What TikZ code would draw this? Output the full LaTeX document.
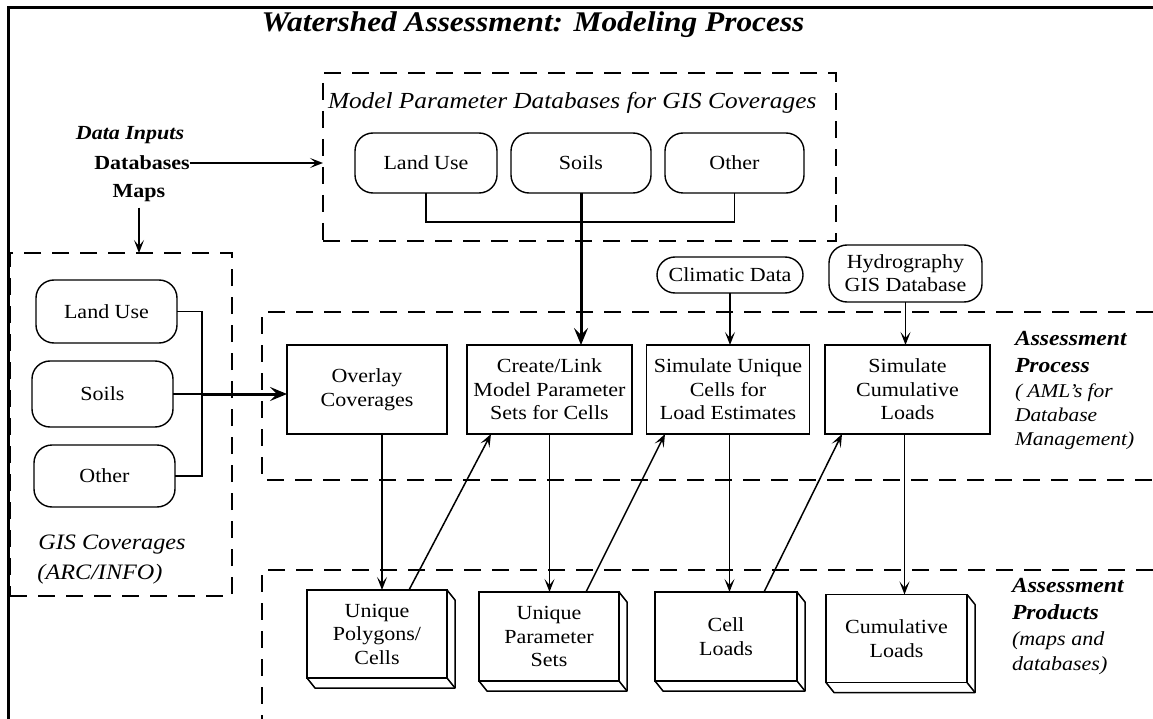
\documentclass[tikz,border=0pt]{standalone}
\usepackage{fontspec}
\setmainfont[FakeStretch=1.1]{Liberation Serif}
\usetikzlibrary{arrows.meta,calc}
\newcommand\bxfont{\fontsize{20}{23.5}\selectfont}
\newcommand\slabdepth[1]{%
  \draw[line width=1.5pt,line join=round] (#1.north east) -- ++(8,10) -- ($(#1.south east)+(8,10)$) -- ($(#1.south west)+(8,10)$) -- (#1.south west);
  \draw[line width=1.5pt] (#1.south east) -- ++(8,10);}
\begin{document}
\begin{tikzpicture}[x=1pt,y=-1pt,
  every node/.style={inner sep=0pt,outer sep=0pt},
  ln/.style={line width=1.5pt},
  dline/.style={line width=1.5pt,dash pattern=on 17pt off 11pt},
  dbox/.style={draw,line width=1.5pt,dash pattern=on 17pt off 11pt},
  rbox/.style={draw,line width=1.4pt,rounded corners=18pt,align=center,font=\bxfont},
  pbox/.style={draw,line width=1.5pt,align=center,font=\bxfont,minimum height=89pt},
  prodbox/.style={draw,line width=1.6pt,align=center,font=\bxfont,minimum height=88pt,minimum width=140pt},
  arr/.style={line width=1.5pt,-{Stealth[length=13pt,width=10pt,inset=6pt]}},
  tarr/.style={line width=3pt,-{Stealth[length=17pt,width=14pt,inset=7pt]}},
  lbl/.style={align=left,anchor=north west},
]
\useasboundingbox (0,0) rectangle (1153,719);
\fill[white] (0,0) rectangle (1153,719);
% frame
\draw[line width=3pt] (8,719) -- (8,8) -- (1153,8);
% title
\node[font=\fontsize{28.5}{32}\selectfont\bfseries\itshape] (title) at (533,25) {Watershed Assessment: Modeling Process};

% model parameter databases
\node[dbox,minimum width=513pt,minimum height=168pt] (mpdb) at (579.5,157) {};
\node[anchor=west,font=\fontsize{23}{26}\selectfont\itshape] (mptitle) at (328,103) {Model Parameter Databases for GIS Coverages};
\node[rbox,minimum width=142pt,minimum height=60pt] (mpLand) at (426,163) {Land Use};
\node[rbox,minimum width=140pt,minimum height=60pt] (mpSoils) at (581,163) {Soils};
\node[rbox,minimum width=139pt,minimum height=60pt] (mpOther) at (734.5,163) {Other};

% data inputs
\node[font=\fontsize{20}{24}\selectfont\bfseries\itshape] (datain) at (130,135) {Data Inputs};
\node[font=\fontsize{20}{24}\selectfont\bfseries] (databases) at (142,163) {Databases};
\node[font=\fontsize{20}{24}\selectfont\bfseries] (maps) at (139,193) {Maps};

% GIS coverages
\node[dbox,minimum width=222pt,minimum height=343pt] (gis) at (121,424.5) {};
\node[rbox,minimum width=141pt,minimum height=63pt] (gLand) at (106.5,311.5) {Land Use};
\node[rbox,minimum width=141pt,minimum height=66pt] (gSoils) at (102.5,394) {Soils};
\node[rbox,minimum width=141pt,minimum height=62pt] (gOther) at (104.5,476) {Other};
\node[font=\fontsize{22}{26}\selectfont\itshape] (gist) at (112,545) {GIS Coverages};
\node[font=\fontsize{22}{26}\selectfont\itshape] (arcinfo) at (100,574) {(ARC/INFO)};
\coordinate (j) at (202,394);

% process region
\draw[dline] (1153,312) -- (262,312) -- (262,480) -- (1153,480);
\node[pbox,minimum width=160pt] (overlay) at (367,389.5) {Overlay\\Coverages};
\node[pbox,minimum width=165pt] (create) at (549.5,389.5) {Create/Link\\Model Parameter\\Sets for Cells};
\node[pbox,minimum width=163pt] (simU) at (728,389.5) {Simulate Unique\\Cells for\\Load Estimates};
\node[pbox,minimum width=165pt] (simC) at (907.5,389.5) {Simulate\\Cumulative\\Loads};
\node[rbox,minimum width=146pt,minimum height=36pt] (climatic) at (730,275) {Climatic Data};
\node[rbox,minimum width=153pt,minimum height=57pt,font=\fontsize{20}{23}\selectfont] (hydro) at (905.5,273.5) {Hydrography\\GIS Database};
\node[lbl,font=\fontsize{21.5}{27}\selectfont\bfseries\itshape] (apA) at (1015,331) {Assessment\\Process};
\node[lbl,font=\fontsize{19.5}{24}\selectfont\itshape] (apB) at (1015,384) {( AML's for\\Database\\Management)};

% products region
\draw[dline] (1153,570) -- (262,570) -- (262,719);
\node[prodbox] (prod1) at (377,634) {Unique\\Polygons/\\Cells};
\node[prodbox,minimum height=89pt] (prod2) at (549,636.5) {Unique\\Parameter\\Sets};
\node[prodbox,minimum width=142pt,minimum height=89pt] (prod3) at (726,636.5) {Cell\\Loads};
\node[prodbox,minimum width=141pt] (prod4) at (896.5,638.5) {Cumulative\\Loads};
\slabdepth{prod1}
\slabdepth{prod2}
\slabdepth{prod3}
\slabdepth{prod4}
\node[lbl,font=\fontsize{21.5}{27}\selectfont\bfseries\itshape] (prA) at (1012,578) {Assessment\\Products};
\node[lbl,font=\fontsize{20}{25}\selectfont\itshape] (prB) at (1012,632) {(maps and\\databases)};

% connectors
\draw[arr] (databases.east) -- (databases.east -| mpdb.west);
\draw[arr,shorten <=6pt] (maps.south) -- (maps.south |- gis.north);
\draw[ln] (mpLand.south) -- ++(0,29) -| (mpOther.south);
\draw[tarr] (mpSoils.south) -- (mpSoils.south |- create.north);
\draw[ln] (gLand.east) -| (j) |- (gOther.east);
\draw[ln] (gSoils.east) -- (j);
\draw[tarr] (j) -- (j -| overlay.west);
\draw[arr] (climatic.south) -- (climatic.south |- simU.north);
\draw[arr] (hydro.south) -- (hydro.south |- simC.north);
\draw[arr] ($(overlay.south)+(15,0)$) -- ($(prod1.north)+(5,0)$);
\draw[arr] (create.south) -- (create.south |- prod2.north);
\draw[arr] ($(simU.south)+(1.5,0)$) -- ($(simU.south |- prod3.north)+(1.5,0)$);
\draw[arr] ($(simC.south)+(-3,0)$) -- ($(simC.south |- prod4.north)+(-3,0)$);
\draw[arr] ([xshift=32pt]prod1.north) -- ([xshift=24pt]create.south west);
\draw[arr] ([xshift=37pt]prod2.north) -- ([xshift=18.5pt]simU.south west);
\draw[arr] ([xshift=38pt]prod3.north) -- ([xshift=17pt]simC.south west);
\end{tikzpicture}
\end{document}
